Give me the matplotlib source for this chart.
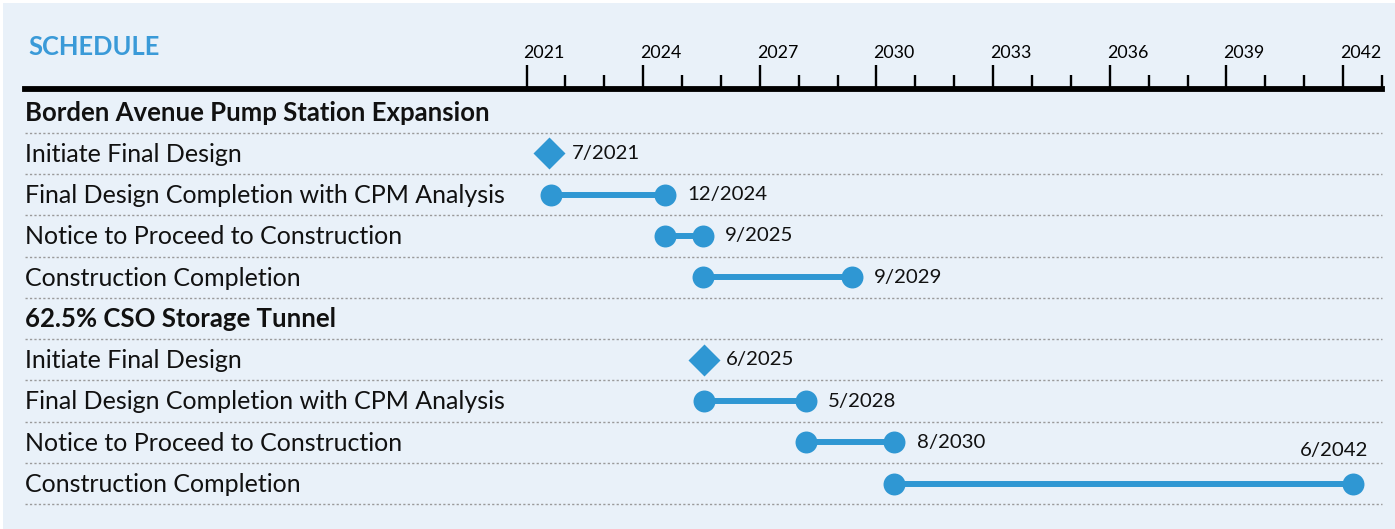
import numpy as np
import matplotlib
matplotlib.use("Agg")
import matplotlib.pyplot as plt
from matplotlib.patches import Rectangle
from matplotlib.transforms import ScaledTranslation

# ── Data ─────────────────────────────────────────────────
row_labels = [
    "Borden Avenue Pump Station Expansion",
    "Initiate Final Design",
    "Final Design Completion with CPM Analysis",
    "Notice to Proceed to Construction",
    "Construction Completion",
    "62.5% CSO Storage Tunnel",
    "Initiate Final Design",
    "Final Design Completion with CPM Analysis",
    "Notice to Proceed to Construction",
    "Construction Completion",
]
is_header = [True, False, False, False, False, True, False, False, False, False]
is_milestone = [False, True, False, False, False, False, True, False, False, False]
# decimal-year positions
starts = [np.nan, 2021.58, 2021.62, 2024.55, 2025.53, np.nan, 2025.56, 2025.56, 2028.18, 2030.45]
ends = [np.nan, 2021.58, 2024.55, 2025.53, 2029.35, np.nan, 2025.56, 2028.18, 2030.45, 2042.23]
date_labels = ["", "7/2021", "12/2024", "9/2025", "9/2029", "", "6/2025", "5/2028", "8/2030", "6/2042"]

major_years = list(range(2021, 2043, 3))
minor_years = [y for y in range(2021, 2044) if y not in major_years]

# ── Style ────────────────────────────────────────────────
BG = "#e9f1f9"
BLUE = "#2f97d3"
FONT = ["Lato", "DejaVu Sans"]
plt.rcParams["font.family"] = FONT

W, H = 1395, 529
fig = plt.figure(figsize=(W / 100, H / 100), dpi=100)
fig.patch.set_facecolor("white")
fig.patches.append(Rectangle((3 / W, 0), 1 - 3 / W, 1 - 3 / H,
                             transform=fig.transFigure, facecolor=BG,
                             edgecolor="none", zorder=-10))

# main axes: whole figure, x in years, y in row index
px_per_year = 38.9
x0_px = 526.7  # pixel position of 2021
ax = fig.add_axes([0, 0, 1, 1])
ax.set_xlim(2021 - x0_px / px_per_year, 2021 + (W - x0_px) / px_per_year)
row0_px, row_h = 112, 41.3
ax.set_ylim((H - row0_px) / row_h, -row0_px / row_h)
ax.axis("off")
ax.patch.set_alpha(0)

left_year = 2021 + (25 - x0_px) / px_per_year
right_year = 2043

# separators
n = len(row_labels)
ax.hlines(np.arange(n) + 0.5, left_year, right_year, color="#9a9a9a",
          linewidth=1.0, linestyle=(0, (1.6, 1.6)), zorder=1)

for i, (lab, hdr) in enumerate(zip(row_labels, is_header)):
    ax.text(left_year, i + 0.02, lab, ha="left", va="center",
            fontsize=18.5 if hdr else 18,
            fontweight="bold" if hdr else "normal", color="#111111", zorder=3)
    if hdr:
        continue
    s, e = starts[i], ends[i]
    if is_milestone[i]:
        ax.plot([s], [i], marker="D", ms=15.8, color=BLUE, mec="none", zorder=4)
    else:
        ax.plot([s, e], [i, i], color=BLUE, linewidth=4.3, zorder=3,
                solid_capstyle="butt")
        ax.plot([s, e], [i, i], "o", ms=15.8, color=BLUE, mec="none", zorder=4)
    if i == n - 1:
        ax.annotate(date_labels[i], xy=(e, i), xytext=(11, 24),
                    textcoords="offset points", ha="right", va="center",
                    fontsize=14.7, color="#111111")
    else:
        ax.annotate(date_labels[i], xy=(e, i), xytext=(16, 0),
                    textcoords="offset points", ha="left", va="center",
                    fontsize=14.7, color="#111111")

# title
ax.text(left_year + 3 / px_per_year, -1.57, "SCHEDULE", ha="left", va="center",
        fontsize=18.4, fontweight="bold", color="#3a9ad8")

# timeline axis at top
axis_px = 89.5
tax = fig.add_axes([25 / W, (H - axis_px) / H, (1382 - 25) / W, 0.001])
tax.set_xlim(left_year, right_year)
tax.patch.set_alpha(0)
for sp in ["left", "right", "bottom"]:
    tax.spines[sp].set_visible(False)
tax.spines["top"].set_linewidth(4.2)
tax.spines["top"].set_color("black")
tax.xaxis.set_ticks_position("top")
tax.set_xticks(major_years)
tax.set_xticklabels([str(y) for y in major_years], fontsize=12.8)
tax.set_xticks(minor_years, minor=True)
tax.tick_params(axis="x", which="major", direction="out", length=17, width=1.7,
                pad=3, colors="black")
tax.tick_params(axis="x", which="minor", direction="out", length=10, width=1.7)
tax.set_yticks([])
shift = ScaledTranslation(-3 / 100, 0, fig.dpi_scale_trans)
for lbl in tax.get_xticklabels():
    lbl.set_horizontalalignment("left")
    lbl.set_transform(lbl.get_transform() + shift)

fig.savefig("out.png", dpi=100, facecolor=fig.get_facecolor())
